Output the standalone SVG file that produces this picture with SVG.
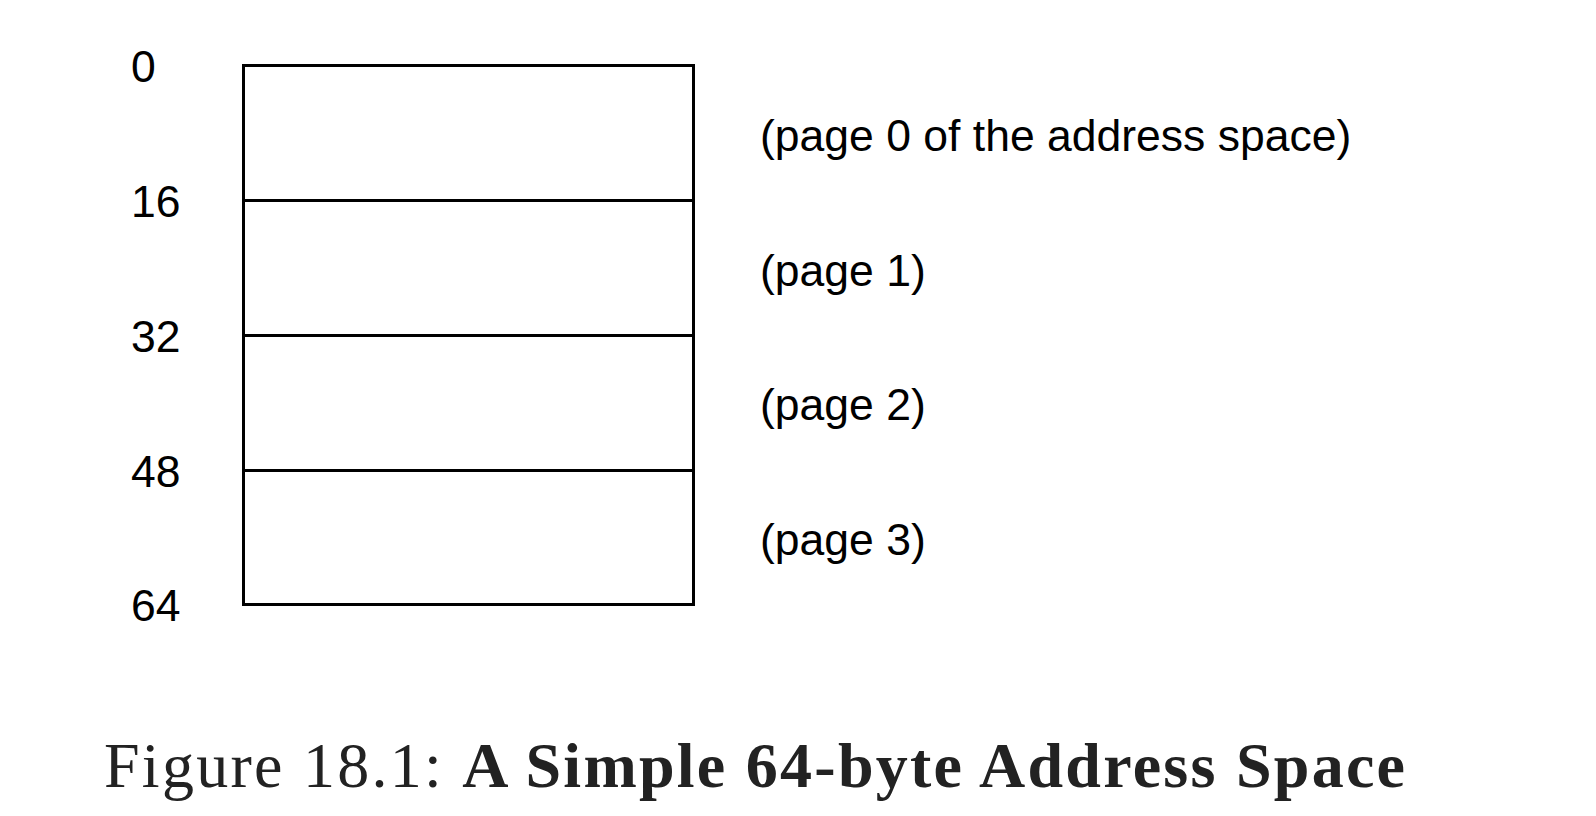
<svg xmlns="http://www.w3.org/2000/svg" width="1596" height="816" viewBox="0 0 1596 816">
<style>
.l{font-family:"Liberation Sans",Arial,sans-serif;font-size:44.5px;fill:#000}
.b{fill:none;stroke:#000;stroke-width:3}
.c{font-family:"Liberation Serif","Times New Roman",serif;font-size:64px;fill:#222}
</style>
<rect width="1596" height="816" fill="#fff"/>
<g id="box">
<rect class="b" x="243.5" y="65.5" width="450" height="539"/>
<g id="connectors">
<line class="b" x1="243" y1="200.5" x2="694" y2="200.5"/>
<line class="b" x1="243" y1="335.5" x2="694" y2="335.5"/>
<line class="b" x1="243" y1="470.5" x2="694" y2="470.5"/>
</g>
</g>
<g id="addresses">
<text class="l" x="131" y="82">0</text>
<text class="l" x="131" y="217">16</text>
<text class="l" x="131" y="352">32</text>
<text class="l" x="131" y="487">48</text>
<text class="l" x="131" y="621">64</text>
</g>
<g id="pages">
<text class="l" x="760" y="151">(page 0 of the address space)</text>
<text class="l" x="760" y="286">(page 1)</text>
<text class="l" x="760" y="420">(page 2)</text>
<text class="l" x="760" y="555">(page 3)</text>
</g>
<text class="c" x="104" y="787" textLength="1301" lengthAdjust="spacing">Figure 18.1: <tspan font-weight="bold">A Simple 64-byte Address Space</tspan></text>
</svg>
